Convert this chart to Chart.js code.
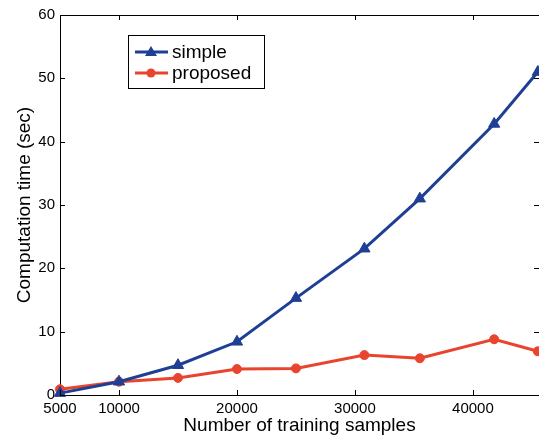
<!DOCTYPE html>
<html>
<head>
<meta charset="utf-8">
<script src="https://cdn.jsdelivr.net/npm/chart.js@4/dist/chart.umd.min.js"></script>
<style>
  html, body { margin: 0; padding: 0; background: #fff; }
  #wrap { width: 539px; height: 439px; }
</style>
</head>
<body>
<div id="wrap"><canvas id="myChart"></canvas></div>
<script>
// data
const samples = [5000, 10000, 15000, 20000, 25000, 30800, 35500, 41800, 45500];
const simpleTime = [0.3, 2.1, 4.7, 8.4, 15.3, 23.1, 31.0, 42.8, 51.0];
const proposedTime = [0.9, 2.1, 2.7, 4.1, 4.2, 6.3, 5.8, 8.8, 6.9];
const xTicks = [5000, 10000, 20000, 30000, 40000];
const yTicks = [0, 10, 20, 30, 40, 50, 60];

const blue = '#1f3f95';
const red = '#e9442e';
const FONT = 'Liberation Sans, Arial, Helvetica, sans-serif';

// matlab style frame: top line + inward ticks on all four sides, legend box
const framePlugin = {
  id: 'frame',
  afterDraw(chart) {
    const { ctx, chartArea: a, scales } = chart;
    ctx.save();
    ctx.strokeStyle = '#000';
    ctx.lineWidth = 1;
    ctx.beginPath();
    ctx.moveTo(a.left, a.top + 0.5);
    ctx.lineTo(a.right, a.top + 0.5);
    const len = 5;
    scales.x.ticks.forEach(t => {
      const x = Math.round(scales.x.getPixelForValue(t.value)) + 0.5;
      ctx.moveTo(x, a.bottom); ctx.lineTo(x, a.bottom - len);
      ctx.moveTo(x, a.top); ctx.lineTo(x, a.top + len);
    });
    scales.y.ticks.forEach(t => {
      const y = Math.round(scales.y.getPixelForValue(t.value)) + 0.5;
      ctx.moveTo(a.left, y); ctx.lineTo(a.left + len, y);
      ctx.moveTo(a.right, y); ctx.lineTo(a.right - len, y);
    });
    ctx.stroke();

    // legend
    const bx = 128.5, by = 35.5, bw = 136, bh = 53;
    ctx.fillStyle = '#fff';
    ctx.fillRect(bx, by, bw, bh);
    ctx.strokeRect(bx, by, bw, bh);
    ctx.font = '19px ' + FONT;
    ctx.textBaseline = 'middle';
    chart.data.datasets.forEach((ds, i) => {
      const y = 52 + i * 21;
      ctx.strokeStyle = ds.borderColor;
      ctx.lineWidth = 3;
      ctx.beginPath();
      ctx.moveTo(135, y); ctx.lineTo(168, y);
      ctx.stroke();
      ctx.fillStyle = ds.borderColor;
      ctx.beginPath();
      if (ds.pointStyle === 'triangle') {
        ctx.moveTo(151, y - 6); ctx.lineTo(157, y + 4); ctx.lineTo(145, y + 4);
        ctx.closePath();
      } else {
        ctx.arc(151, y, 4.5, 0, Math.PI * 2);
      }
      ctx.fill();
      ctx.fillStyle = '#000';
      ctx.fillText(ds.label, 172, y + 1);
    });
    ctx.restore();
  }
};

const ctx = document.getElementById('myChart').getContext('2d');
new Chart(ctx, {
  type: 'line',
  data: {
    datasets: [{
      label: 'simple',
      data: samples.map((s, i) => ({ x: s, y: simpleTime[i] })),
      borderColor: blue,
      backgroundColor: blue,
      borderWidth: 3,
      pointStyle: 'triangle',
      pointRadius: 6.5,
      pointBorderWidth: 1,
      tension: 0,
      clip: false
    }, {
      label: 'proposed',
      data: samples.map((s, i) => ({ x: s, y: proposedTime[i] })),
      borderColor: red,
      backgroundColor: red,
      borderWidth: 3,
      pointStyle: 'circle',
      pointRadius: 4.5,
      pointBorderWidth: 1,
      tension: 0,
      clip: false
    }]
  },
  options: {
    responsive: true,
    maintainAspectRatio: false,
    animation: false,
    layout: { autoPadding: false, padding: { top: 15, right: 0, left: 0, bottom: 0 } },
    plugins: {
      legend: { display: false },
      tooltip: { enabled: false }
    },
    scales: {
      x: {
        type: 'linear',
        min: 5000,
        max: 45600,
        grid: { display: false, drawTicks: false },
        border: { display: true, color: '#000', width: 1 },
        afterBuildTicks: s => { s.ticks = xTicks.map(v => ({ value: v })); },
        afterFit: s => { s.height = 44; },
        ticks: {
          color: '#000',
          padding: 5,
          maxRotation: 0,
          autoSkip: false,
          font: { family: FONT, size: 15 },
          callback: v => String(v)
        },
        title: {
          display: true,
          text: 'Number of training samples',
          color: '#000',
          font: { family: FONT, size: 19 },
          padding: { top: 0, bottom: 2 }
        }
      },
      y: {
        min: 0,
        max: 60,
        grid: { display: false, drawTicks: false },
        border: { display: true, color: '#000', width: 1 },
        afterBuildTicks: s => { s.ticks = yTicks.map(v => ({ value: v })); },
        afterFit: s => { s.width = 60; },
        ticks: {
          color: '#000',
          padding: 5,
          autoSkip: false,
          font: { family: FONT, size: 15 }
        },
        title: {
          display: true,
          text: 'Computation time (sec)',
          color: '#000',
          font: { family: FONT, size: 19 },
          padding: { top: 13, bottom: 0 }
        }
      }
    }
  },
  plugins: [framePlugin]
});
</script>
</body>
</html>
